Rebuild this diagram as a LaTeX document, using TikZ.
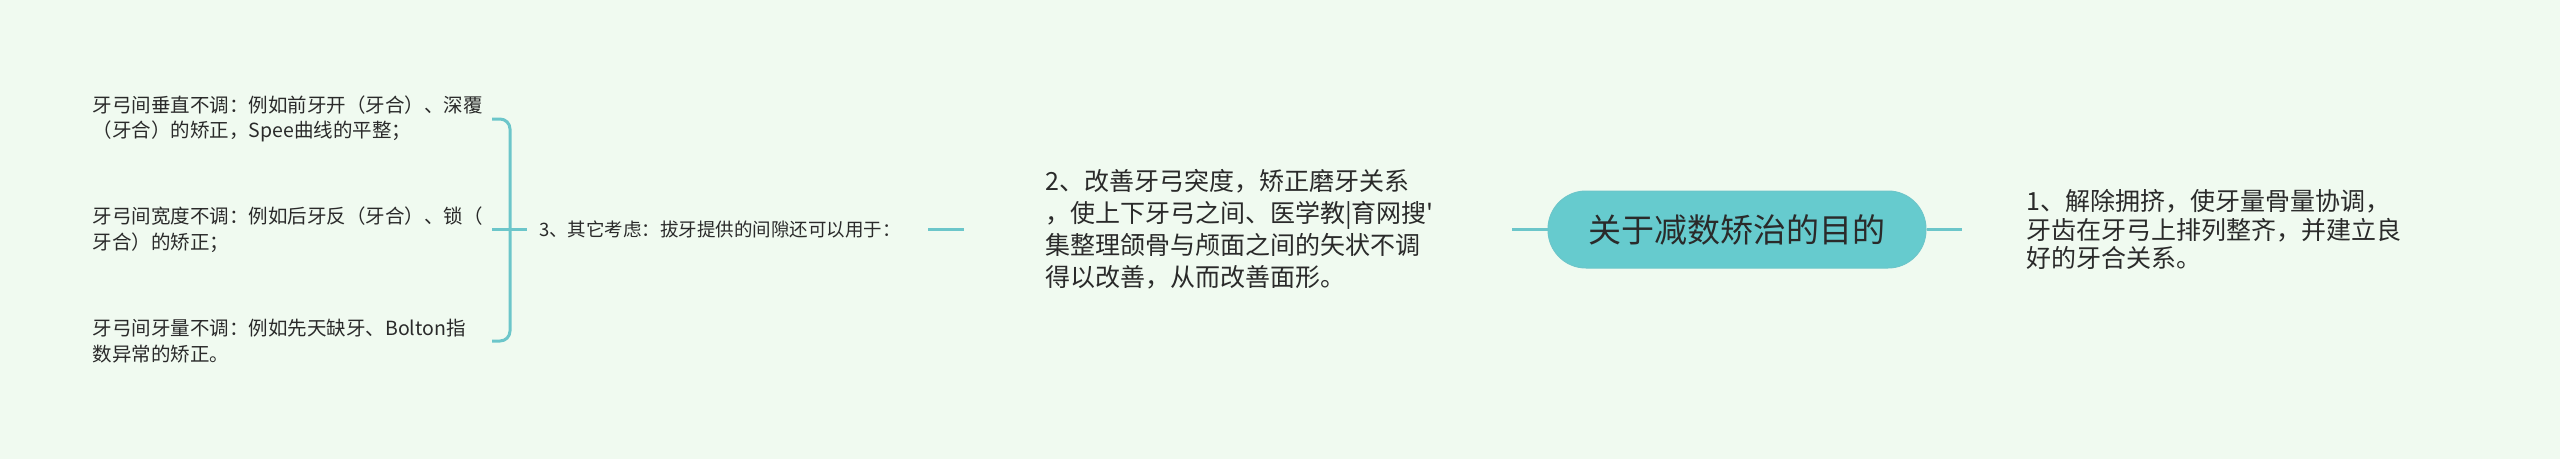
\documentclass[tikz,border=0pt]{standalone}
\usepackage{fontspec}
\usepackage{tikz}
\newfontfamily\cjk{Noto Sans CJK SC}
\definecolor{mintbg}{HTML}{F0FAF0}
\definecolor{tealfill}{HTML}{66CBCE}
\definecolor{tealline}{HTML}{6CC6CA}
\definecolor{inkgray}{HTML}{2A2A2A}

\begin{document}
\begin{tikzpicture}[x=1pt,y=-1pt,
    link/.style={draw=tealline,line width=3pt},
    leaf/.style={anchor=east,inner xsep=0pt,text width=399pt,align=left,text=inkgray,
        font=\cjk\fontsize{19.5}{25.5}\selectfont},
    branch/.style={anchor=west,align=left,text=inkgray},
    rootnode/.style={fill=tealfill,draw=tealline,line width=1pt,rounded corners=38pt,
        minimum width=378pt,minimum height=77pt,inner sep=0pt,text=inkgray,
        font=\cjk\fontsize{33}{40}\selectfont}]
    \fill[mintbg] (0,0) rectangle (2560,459);
    \useasboundingbox (0,0) rectangle (2560,459);
    \node[rootnode] (goal) at (1737,229.5) {关于减数矫治的目的};
    \node[branch,inner xsep=64pt,text width=380pt,font=\cjk\fontsize{25}{28.5}\selectfont] (crowd) at (1962,229.5)
        {1、解除拥挤，使牙量骨量协调，\\牙齿在牙弓上排列整齐，并建立良\\好的牙合关系。};
    \node[branch,inner xsep=81pt,text width=386pt,font=\cjk\fontsize{25}{32}\selectfont] (arch) at (964,229.5)
        {2、改善牙弓突度，矫正磨牙关系\\，使上下牙弓之间、医学教|育网搜'\\集整理颌骨与颅面之间的矢状不调\\得以改善，从而改善面形。};
    \node[branch,inner xsep=12pt,text width=377pt,font=\cjk\fontsize{18.5}{24}\selectfont] (other) at (527,229.5)
        {3、其它考虑：拔牙提供的间隙还可以用于：};
    \node[leaf] (vert) at (492,119) {牙弓间垂直不调：例如前牙开（牙合）、深覆\\（牙合）的矫正，Spee曲线的平整；};
    \node[leaf] (width) at (492,229.5) {牙弓间宽度不调：例如后牙反（牙合）、锁（\\牙合）的矫正；};
    \node[leaf] (count) at (492,341) {牙弓间牙量不调：例如先天缺牙、Bolton指\\数异常的矫正。};
    \coordinate (brace) at (510,229.5);
    \draw[link] (goal.east) -- (crowd.west);
    \draw[link] (arch.east) -- (goal.west);
    \draw[link] (other.east) -- (arch.west);
    \draw[link] (width.east) -- (other.west);
    \draw[link,rounded corners=10pt] (vert.east) -| (brace) |- (count.east);
\end{tikzpicture}
\end{document}
